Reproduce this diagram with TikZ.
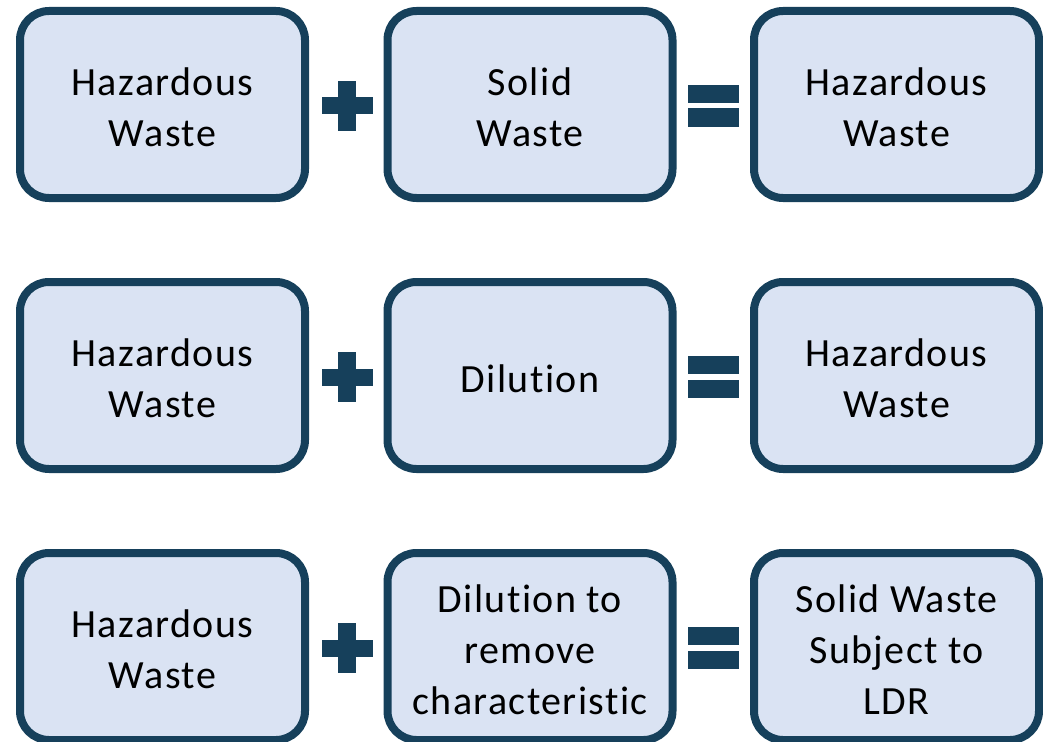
\documentclass[tikz,border=0pt]{standalone}
\usepackage{fontspec}
\usetikzlibrary{calc}
\setmainfont{Carlito}[LetterSpace=3.5,Ligatures=NoCommon]
\definecolor{boxfill}{HTML}{DAE3F3}
\definecolor{boxline}{HTML}{16405B}
\begin{document}
\begin{tikzpicture}[x=1pt,y=-1pt,
  wastebox/.style={draw=boxline, fill=boxfill, line width=8pt, rounded corners=29pt,
    minimum width=285pt, minimum height=187pt, inner sep=0pt},
  boxtext/.style={align=center, inner sep=0pt, yshift=-3pt,
    font=\fontsize{40}{51}\selectfont, text=black},
  sym/.style={fill=boxline}]
\useasboundingbox (0,0) rectangle (1043,741);
\clip (0,0) rectangle (1043,741);
% row centres: 104.5, 375.5, 646.5 ; column centres: 162.5, 530, 896.5
\node[wastebox, label={[boxtext]center:{Hazardous\\Waste}}] (a1) at (162.5,104.5) {};
\node[wastebox, label={[boxtext]center:{Solid\\Waste}}] (b1) at (530,104.5) {};
\node[wastebox, label={[boxtext]center:{Hazardous\\Waste}}] (c1) at (896.5,104.5) {};
\node[wastebox, label={[boxtext]center:{Hazardous\\Waste}}] (a2) at (162.5,375.5) {};
\node[wastebox, label={[boxtext]center:{Dilution}}] (b2) at (530,375.5) {};
\node[wastebox, label={[boxtext]center:{Hazardous\\Waste}}] (c2) at (896.5,375.5) {};
\node[wastebox, label={[boxtext]center:{Hazardous\\Waste}}] (a3) at (162.5,646.5) {};
\node[wastebox, label={[boxtext]center:{Dilution to\\remove\\characteristic}}] (b3) at (530,646.5) {};
\node[wastebox, label={[boxtext]center:{Solid Waste\\Subject to\\LDR}}] (c3) at (896.5,646.5) {};
\foreach \r in {a1,a2,a3}{
  \path (\r.center) ++(184.5,1.5) coordinate (p);
  \fill[sym] ($(p)+(-25.5,-8.5)$) rectangle ($(p)+(25.5,8.5)$);
  \fill[sym] ($(p)+(-9,-25)$) rectangle ($(p)+(9,25)$);
}
\foreach \r in {b1,b2,b3}{
  \path (\r.center) ++(183.5,1) coordinate (q);
  \fill[sym] ($(q)+(-25.5,-20.5)$) rectangle ($(q)+(25.5,-2.5)$);
  \fill[sym] ($(q)+(-25.5,3)$) rectangle ($(q)+(25.5,21)$);
}
\end{tikzpicture}
\end{document}
